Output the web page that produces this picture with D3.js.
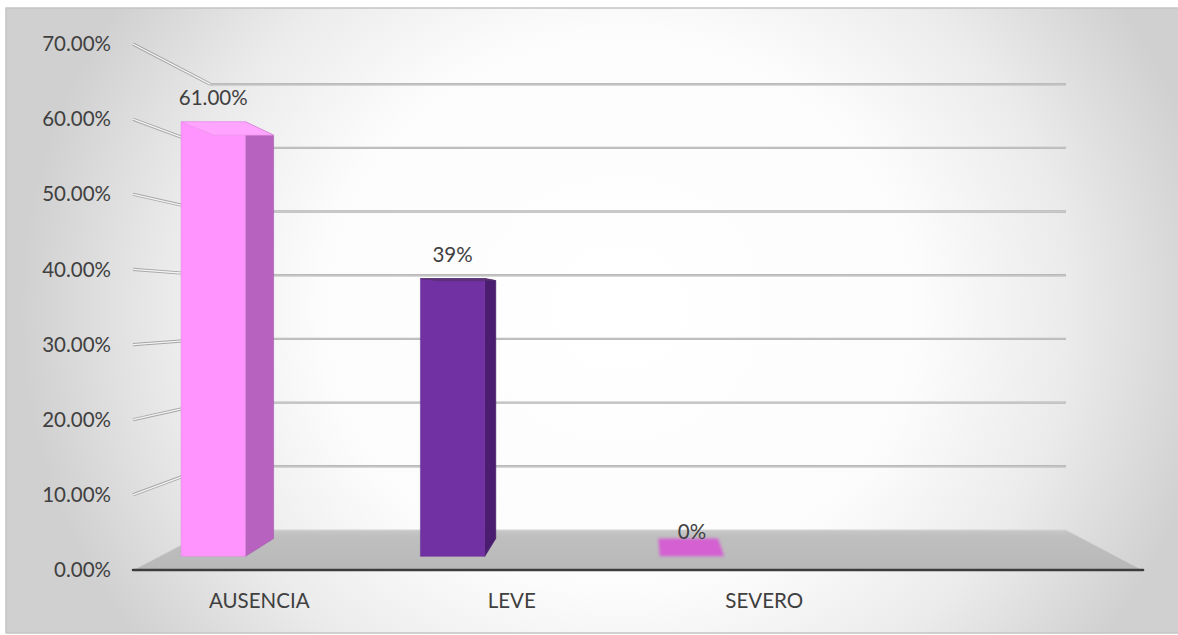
<!DOCTYPE html>
<html>
<head>
<meta charset="utf-8">
<script src="https://cdn.jsdelivr.net/npm/d3@7"></script>
<style>
  html, body { margin: 0; padding: 0; background: #ffffff; }
  svg { display: block; }
  text { font-family: Lato, "Open Sans", sans-serif; fill: #404040; }
</style>
</head>
<body>
<svg id="chart" width="1178" height="635"></svg>
<script>
// ---- data ----
const categories = ["AUSENCIA", "LEVE", "SEVERO"];
const values = [0.61, 0.39, 0.0];
const valueLabels = ["61.00%", "39%", "0%"];
const tickValues = [0, 0.1, 0.2, 0.3, 0.4, 0.5, 0.6, 0.7];
const barColors = [
  { front: "#ff94ff", side: "#b862c0", top: "#ffa4ff" },
  { front: "#7231a3", side: "#4a1d70", top: "#5c3478" },
  { front: "#d45ed2", side: "#b04cb0", top: "#d460d2" }
];

// ---- layout ----
const W = 1178, H = 635;
const svg = d3.select("#chart");
const defs = svg.append("defs");

const bg = defs.append("radialGradient").attr("id", "bg")
  .attr("gradientUnits", "userSpaceOnUse")
  .attr("cx", 620).attr("cy", 310).attr("r", 600)
  .attr("gradientTransform", "translate(620,310) scale(1,0.93) translate(-620,-310)");
[[0, "#ffffff"], [0.5, "#fcfcfc"], [0.75, "#ebebeb"], [1, "#d0d0d0"]]
  .forEach(s => bg.append("stop").attr("offset", s[0]).attr("stop-color", s[1]));

const blur = defs.append("filter").attr("id", "soft").attr("x", "-20%").attr("y", "-50%").attr("width", "140%").attr("height", "200%");
blur.append("feGaussianBlur").attr("stdDeviation", 1.6);

svg.append("rect").attr("x", 6).attr("y", 8).attr("width", W).attr("height", 625)
  .attr("fill", "url(#bg)").attr("stroke", "#c4c4c4").attr("stroke-width", 1.5);

// scales (front plane)
const xDomain = categories.concat(["\u200b"]);
const x = d3.scaleBand().domain(xDomain).range([133, 1143]).paddingInner(0).paddingOuter(0);
const y = d3.scaleLinear().domain([0, 0.7]).range([570, 44]);

// perspective projection
const VX = (x.range()[0] + x.range()[1]) / 2;
const VY = 307.5;
const K = 0.1525;
function P(X, v, d) {
  const s = 1 - K * d;
  return [VX + (X - VX) * s, VY + (y(v) - VY) * s];
}
const line = d3.line();

// back wall gridlines
const gridG = svg.append("g");
tickValues.filter(t => t > 0).forEach(t => {
  const a = P(x.range()[0], t, 1), b = P(x.range()[1], t, 1);
  gridG.append("path").attr("d", line([a, b])).attr("stroke", "#b4b4b4").attr("stroke-width", 2.4).attr("fill", "none");
  gridG.append("path").attr("d", line([a, b])).attr("stroke", "#d2d2d2").attr("stroke-width", 0.7).attr("fill", "none");
});

// left side-wall tick lines
tickValues.filter(t => t > 0).forEach(t => {
  const a = P(x.range()[0], t, 0), b = P(x.range()[0], t, 1);
  gridG.append("path").attr("d", line([a, b])).attr("stroke", "#a6a6a6").attr("stroke-width", 3.2).attr("fill", "none");
  gridG.append("path").attr("d", line([a, b])).attr("stroke", "#f4f4f4").attr("stroke-width", 1.3).attr("fill", "none");
});

// floor
const floorPts = [P(x.range()[0], 0, 0), P(x.range()[1], 0, 0), P(x.range()[1], 0, 1), P(x.range()[0], 0, 1)];
const fg = defs.append("linearGradient").attr("id", "floorG").attr("x1", 0).attr("y1", 0).attr("x2", 0).attr("y2", 1);
[[0, "#c8c8c8"], [0.15, "#bfbfbf"], [1, "#b8b8b8"]].forEach(s => fg.append("stop").attr("offset", s[0]).attr("stop-color", s[1]));
svg.append("path").attr("d", line(floorPts) + "Z").attr("fill", "url(#floorG)").attr("stroke", "#d6d6d6").attr("stroke-width", 1);
svg.append("path").attr("d", line([floorPts[0], floorPts[1]]))
  .attr("stroke", "#3c3c3c").attr("stroke-width", 2.6).attr("stroke-linecap", "round");

// bars
const DF = 0.341, DB = 0.787;
const barG = svg.append("g");
categories.forEach((c, i) => {
  const v = values[i];
  const X0 = x(c) + x.bandwidth() * 0.091;
  const X1 = x(c) + x.bandwidth() * 0.36;
  const col = barColors[i];
  const g = barG.append("g");
  if (v > 0) {
    g.append("path").attr("d", line([P(X1, 0, DF), P(X1, 0, DB), P(X1, v, DB), P(X1, v, DF)]) + "Z")
      .attr("fill", col.side).attr("stroke", d3.color(col.side).darker(0.3)).attr("stroke-width", 0.6);
    g.append("path").attr("d", line([P(X0, 0, DF), P(X1, 0, DF), P(X1, v, DF), P(X0, v, DF)]) + "Z")
      .attr("fill", col.front).attr("stroke", d3.color(col.front).darker(0.3)).attr("stroke-width", 0.5);
    g.append("path").attr("d", line([P(X0, v, DF), P(X1, v, DF), P(X1, v, DB), P(X0, v, DB)]) + "Z")
      .attr("fill", col.top).attr("stroke", d3.color(col.top).darker(0.4)).attr("stroke-width", 0.5);
  } else {
    g.append("path").attr("d", line([P(X0, v, DF), P(X1, v, DF), P(X1, v, DB), P(X0, v, DB)]) + "Z")
      .attr("fill", col.top).attr("stroke", "none").attr("filter", "url(#soft)");
  }
  const lp = P((X0 + X1) / 2, v, DF);
  svg.append("text").attr("x", lp[0]).attr("y", lp[1] - 17)
    .attr("text-anchor", "middle").attr("font-size", 20.5).text(valueLabels[i]);
});

// y tick labels
const fmt = d3.format(".2%");
tickValues.forEach(t => {
  svg.append("text").attr("x", 111).attr("y", y(t) + 2)
    .attr("text-anchor", "end").attr("dominant-baseline", "middle")
    .attr("font-size", 20.5).text(fmt(t));
});

// category labels
categories.forEach(c => {
  svg.append("text").attr("x", x(c) + x.bandwidth() / 2).attr("y", 608)
    .attr("text-anchor", "middle").attr("font-size", 20.5).text(c);
});
</script>
</body>
</html>
